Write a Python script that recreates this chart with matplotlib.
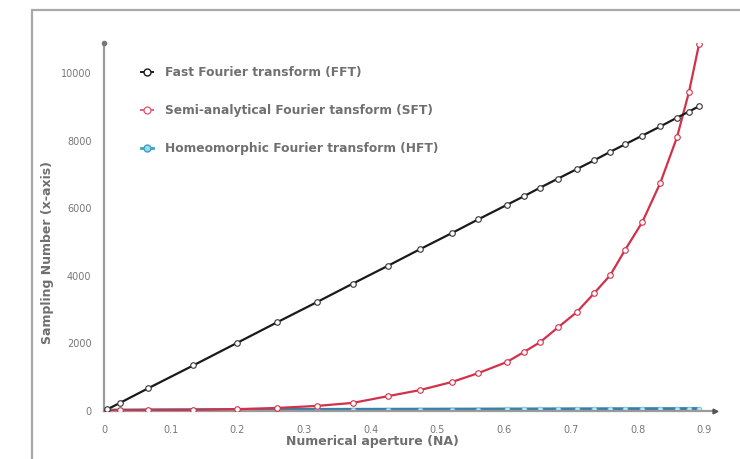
import matplotlib
matplotlib.use("Agg")
import matplotlib.pyplot as plt
from matplotlib.patches import Rectangle
from matplotlib.lines import Line2D

na = [0.005, 0.024, 0.066, 0.134, 0.200, 0.259, 0.319, 0.373, 0.426, 0.474,
      0.522, 0.561, 0.604, 0.630, 0.654, 0.681, 0.709, 0.735, 0.759, 0.781,
      0.807, 0.834, 0.859, 0.877, 0.892]
fft = [50, 240, 670, 1350, 2020, 2620, 3220, 3770, 4300, 4790,
       5270, 5670, 6100, 6360, 6610, 6880, 7160, 7420, 7670, 7890,
       8150, 8420, 8680, 8860, 9020]
sft = [20, 20, 30, 35, 55, 90, 150, 240, 440, 620,
       860, 1120, 1450, 1750, 2040, 2480, 2930, 3490, 4020, 4760,
       5590, 6750, 8100, 9440, 10850]
hft = [10, 15, 20, 25, 30, 32, 34, 36, 38, 40,
       42, 44, 46, 47, 48, 50, 51, 52, 53, 54,
       55, 56, 57, 58, 60]

labels = ["Fast Fourier transform (FFT)",
          "Semi-analytical Fourier tansform (SFT)",
          "Homeomorphic Fourier transform (HFT)"]
xticks = [0, 0.1, 0.2, 0.3, 0.4, 0.5, 0.6, 0.7, 0.8, 0.9]
xticklabels = ["0", "0.1", "0.2", "0.3", "0.4", "0.5", "0.6", "0.7", "0.8", "0.9"]
yticks = [0, 2000, 4000, 6000, 8000, 10000]

W, H = 740, 459
fig = plt.figure(figsize=(W / 100, H / 100), dpi=100)
fig.patch.set_facecolor("white")

# outer frame (top and left border)
fig.add_artist(Rectangle((32 / W, -0.2), 2, (459 - 10) / H + 0.2,
                         transform=fig.transFigure, fill=False,
                         edgecolor="#a8a8a8", linewidth=1.6))

ax = fig.add_axes([104 / W, (H - 411) / H, 611 / W, 368 / H])
ax.set_xlim(0, 0.916)
ax.set_ylim(0, 10890)

red = "#d3304a"
black = "#1a1a1a"
blue = "#3b7fa8"

ax.plot(na, hft, color=blue, lw=2.8, marker="o", ms=3.5, mfc="#bfe6f2",
        mec="#7cc4de", mew=0.6, zorder=2)
ax.plot(na, sft, color=red, lw=1.6, marker="o", ms=4, mfc="white",
        mec=red, mew=0.8, zorder=3)
ax.plot(na, fft, color=black, lw=1.6, marker="o", ms=4, mfc="white",
        mec="#333333", mew=0.8, zorder=4)

for s in ["top", "right"]:
    ax.spines[s].set_visible(False)
for s in ["left", "bottom"]:
    ax.spines[s].set_color("#9a9a9a")
    ax.spines[s].set_linewidth(1.6)

# axis end markers
ax.plot([0], [1], marker="o", ms=3, color="#777777", transform=ax.transAxes,
        clip_on=False, zorder=5)
ax.plot([1], [0], marker=">", ms=3.5, color="#555555", transform=ax.transAxes,
        clip_on=False, zorder=5)

ax.set_xticks(xticks)
ax.set_xticklabels(xticklabels)
ax.set_yticks(yticks)
ax.tick_params(length=0, labelsize=7, labelcolor="#777777")
ax.tick_params(axis="x", pad=10)
ax.tick_params(axis="y", pad=9)

fig.text(372 / W, 1 - 441 / H, "Numerical aperture (NA)", ha="center",
         va="center", fontsize=9, color="#6f6f6f", fontweight="bold")
fig.text(48 / W, 1 - 253 / H, "Sampling Number (x-axis)", ha="center",
         va="center", rotation=90, fontsize=9, color="#6f6f6f",
         fontweight="bold")

handles = [
    Line2D([], [], color=black, lw=1.4, marker="o", ms=5, mfc="white", mec=black, mew=1),
    Line2D([], [], color="#e0607a", lw=1.4, marker="o", ms=5, mfc="white", mec="#e0607a", mew=1),
    Line2D([], [], color="#3aa3c3", lw=2, marker="o", ms=5, mfc="#9fd8ea", mec="#3aa3c3", mew=1),
]
leg = ax.legend(handles, labels, loc="upper left",
                bbox_to_anchor=(130 / W, 1 - 55 / H), bbox_transform=fig.transFigure,
                frameon=False, fontsize=8.8, handlelength=1.0, handletextpad=1.0,
                labelspacing=2.05)
for t in leg.get_texts():
    t.set_color("#707070")
    t.set_fontweight("bold")

fig.savefig("out.png", dpi=100)
